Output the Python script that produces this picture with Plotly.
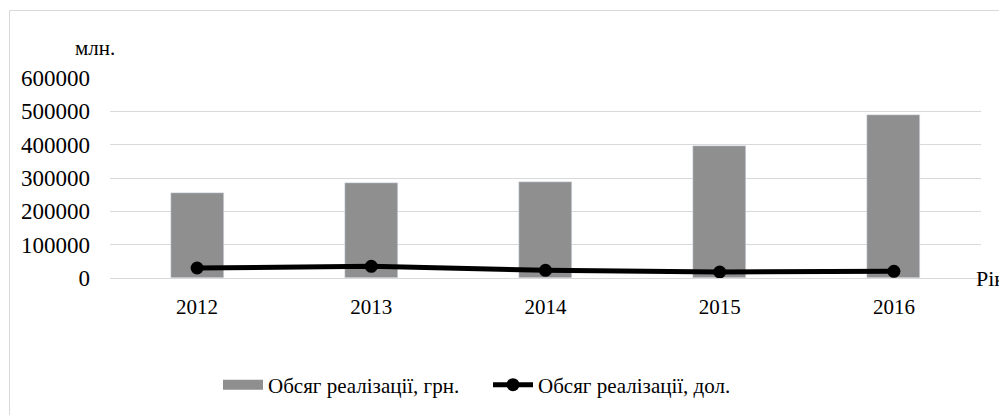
import plotly.graph_objects as go

years = ['2012', '2013', '2014', '2015', '2016']
sales_uah = [255000, 285000, 288000, 397000, 489000]
sales_usd = [30000, 35000, 23000, 18000, 20000]
y_ticks = [0, 100000, 200000, 300000, 400000, 500000, 600000]

# page body has an 8px margin, so the figure is drawn 8px smaller and shifted
OFF = 8
W, H = 1007 - OFF, 415 - OFF
L, R, T, B = 110 - OFF, 26, 78 - OFF, 137
FONT = 'Liberation Serif'
BAR_COLOR = '#8f8f8f'

pw, ph = W - L - R, H - T - B


def px_x(x):
    # window pixel -> paper x
    return (x - OFF - L) / pw


def px_y(y):
    # window pixel -> paper y
    return 1 - (y - OFF - T) / ph


fig = go.Figure()
fig.add_trace(go.Bar(x=years, y=sales_uah, name='Обсяг реалізації, грн.',
                     marker_color=BAR_COLOR, width=0.305, showlegend=False,
                     legendgroup='uah'))
# wide flat swatch for the bar series in the legend
fig.add_trace(go.Scatter(x=[None], y=[None], mode='lines', name='Обсяг реалізації, грн.',
                         line=dict(color=BAR_COLOR, width=12), legendgroup='uah'))
fig.add_trace(go.Scatter(x=years, y=sales_usd, name='Обсяг реалізації, дол.',
                         mode='lines+markers',
                         line=dict(color='#000000', width=5),
                         marker=dict(color='#000000', size=13)))

# outer chart border (only left/top visible in frame)
fig.add_shape(type='rect', xref='paper', yref='paper',
              x0=px_x(9.5), x1=px_x(1015), y0=px_y(425), y1=px_y(10.5),
              line=dict(color='#d9d9d9', width=1), fillcolor='rgba(0,0,0,0)', layer='below')

fig.add_annotation(text='млн.', xref='paper', yref='paper',
                   x=px_x(95), y=px_y(48), showarrow=False,
                   xanchor='center', yanchor='middle', font=dict(size=21, family=FONT, color='#000'))
fig.add_annotation(text='Рік', xref='paper', yref='paper',
                   x=px_x(974), y=0, showarrow=False,
                   xanchor='left', yanchor='middle', font=dict(size=22, family=FONT, color='#000'))

fig.update_layout(
    width=W, height=H,
    margin=dict(l=L, r=R, t=T, b=B),
    plot_bgcolor='#FFFFFF', paper_bgcolor='#FFFFFF',
    font=dict(family=FONT, size=21, color='#000000'),
    showlegend=True,
    legend=dict(orientation='h', xref='container', yref='container',
                x=(218 - OFF) / W, y=1 - (385 - OFF) / H, xanchor='left', yanchor='middle',
                font=dict(size=21, family=FONT), itemwidth=40, entrywidth=215,
                traceorder='normal'),
    xaxis=dict(showgrid=False, showline=False, ticks='', ticklabelstandoff=14,
               tickfont=dict(size=21)),
    yaxis=dict(range=[0, 600000], tickvals=y_ticks, ticktext=[str(v) for v in y_ticks],
               gridcolor='#d9d9d9', gridwidth=1.3, zeroline=True, zerolinecolor='#d9d9d9',
               zerolinewidth=1.3, showline=False, ticks='', ticklabelstandoff=19,
               tickfont=dict(size=23)),
    bargap=0.0,
)

fig.write_html('out.html')
